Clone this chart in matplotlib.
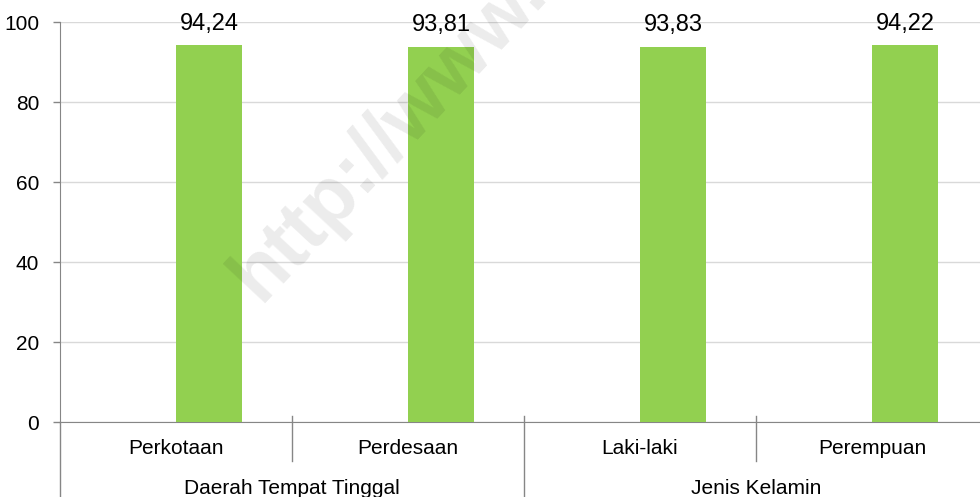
import numpy as np
import matplotlib.pyplot as plt
import matplotlib.transforms as mtransforms

# Data
categories = ['Perkotaan', 'Perdesaan', 'Laki-laki', 'Perempuan']
values = [94.24, 93.81, 93.83, 94.22]
groups = ['Daerah Tempat Tinggal', 'Jenis Kelamin']
group_sizes = [2, 2]
y_ticks = [0, 20, 40, 60, 80, 100]

plt.rcParams['font.family'] = ['Liberation Sans', 'DejaVu Sans']

W, H = 980, 497
fig = plt.figure(figsize=(W / 100, H / 100), dpi=100)
# plot area: left 60px, bottom 422px, top 22px, runs a little past right edge
ax = fig.add_axes([60 / W, (H - 422) / H, 928 / W, 400 / H])

x = np.arange(len(categories))
bar_w = 66 / 232
ax.bar(x + 0.5, values, width=bar_w, align='edge', color='#92D050', zorder=3)

for xi, v in zip(x, values):
    ax.annotate(f'{v:.2f}'.replace('.', ','), (xi + 0.5 + bar_w / 2, v),
                xytext=(0, 11), textcoords='offset points',
                ha='center', va='baseline', fontsize=17, color='black')

ax.set_xlim(0, len(categories))
ax.set_ylim(0, 100)
ax.set_yticks(y_ticks)
ax.set_yticklabels([str(t) for t in y_ticks], fontsize=15)
ax.tick_params(axis='y', length=5, width=1, color='#868686', pad=10)
ax.set_xticks([])
ax.grid(axis='y', color='#d9d9d9', linewidth=1, zorder=0)
ax.set_axisbelow(True)

for s in ['top', 'right']:
    ax.spines[s].set_visible(False)
ax.spines['left'].set_color('#868686')
ax.spines['bottom'].set_color('#868686')

trans = mtransforms.blended_transform_factory(ax.transData, ax.transAxes)
line_kw = dict(color='#868686', linewidth=1, transform=trans, clip_on=False)

# y axis extends down past the labels
ax.plot([0, 0], [0, -0.19], **line_kw)

# category separators and labels
bounds = np.cumsum([0] + group_sizes)
for xi, name in zip(x, categories):
    ax.text(xi + 0.5, -0.065, name, ha='center', va='center', fontsize=15,
            transform=trans)
for b in range(1, len(categories)):
    if b in bounds:
        ax.plot([b, b], [0.015, -0.19], **line_kw)
    else:
        ax.plot([b, b], [0.015, -0.0975], **line_kw)

for g, name in enumerate(groups):
    mid = (bounds[g] + bounds[g + 1]) / 2
    ax.text(mid, -0.167, name, ha='center', va='center', fontsize=15,
            transform=trans)

# watermark
fig.text(260 / W, 1 - 303 / H, 'http://www.bps.go.id', fontsize=57,
         fontweight='bold', color='black', alpha=0.08, rotation=47,
         rotation_mode='anchor', ha='left', va='baseline', zorder=10)

fig.savefig('out.png', dpi=100)
